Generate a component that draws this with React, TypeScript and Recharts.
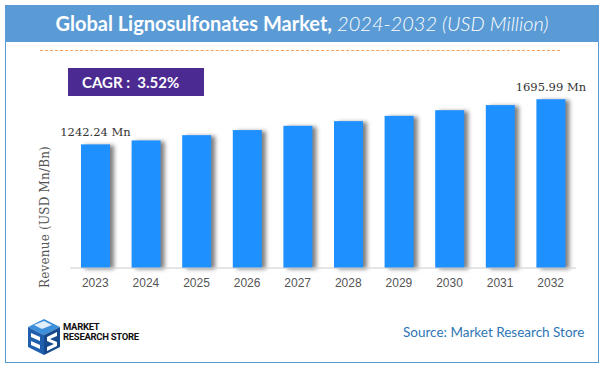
import { Bar, BarChart, LabelList, XAxis, YAxis } from "recharts";

const YEARS = ["2023", "2024", "2025", "2026", "2027", "2028", "2029", "2030", "2031", "2032"];
const REVENUE = [1242.24, 1282, 1335, 1386, 1429, 1476, 1529, 1586, 1637, 1695.99];
const CAGR = "3.52%";

const data = YEARS.map((year, i) => ({ year, value: REVENUE[i] }));

const SANS = "Lato, 'Open Sans', sans-serif";
const SERIF = "'DejaVu Serif', serif";

function ShadowBar(props: any) {
  const { x, y, width, height } = props;
  if (!height || height <= 0) return null;
  return (
    <rect
      x={x}
      y={y}
      width={width}
      height={height}
      fill="#1e90ff"
      style={{ filter: "drop-shadow(4px 1px 2px rgba(0,0,0,0.5))" }}
    />
  );
}

function EndLabel(props: any) {
  const { x, y, width, index, value } = props;
  if (index !== 0 && index !== REVENUE.length - 1) return null;
  return (
    <text
      x={x + width / 2}
      y={y - 8}
      textAnchor="middle"
      fontFamily={SERIF}
      fontSize={11.5}
      fill="#333"
    >
      {`${Number(value).toFixed(2)} Mn`}
    </text>
  );
}

function Logo() {
  return (
    <svg width={36} height={40} viewBox="0 0 36 40" style={{ position: "absolute", left: 26, top: 317 }}>
      <polygon points="18,2 34,10 18,18 2,10" fill="#3c8fd8" />
      <polygon points="2,10 18,18 18,38 2,30" fill="#1f5fae" />
      <polygon points="18,18 34,10 34,30 18,38" fill="#174a8c" />
      <path d="M8,8 L18,4 L26,8 L16,12 Z" fill="#ffffff" opacity={0.85} />
      <path d="M5,16 L14,20 L14,24 L5,20 Z" fill="#ffffff" />
      <path d="M5,24 L14,28 L14,32 L5,28 Z" fill="#ffffff" />
      <path d="M21,20 L31,15 L31,19 L24,22 L31,25 L31,29 L21,34 L21,30 L28,27 L21,24 Z" fill="#ffffff" />
    </svg>
  );
}

export default function App() {
  return (
    <div
      style={{
        position: "absolute",
        left: 0,
        top: 0,
        width: 607,
        height: 372,
        background: "#ffffff",
        overflow: "hidden",
      }}
    >
      {/* frame */}
      <div
        style={{
          position: "absolute",
          left: 5,
          top: 5,
          width: 592,
          height: 356,
          border: "1px solid #5b9bd5",
        }}
      />
      {/* header */}
      <div
        style={{
          position: "absolute",
          left: 5,
          top: 5,
          width: 594,
          height: 37,
          background: "#5b9bd5",
          color: "#fff",
          fontFamily: SANS,
          fontSize: 20,
          lineHeight: "37px",
          textAlign: "center",
          whiteSpace: "nowrap",
        }}
      >
        <span style={{ fontWeight: 700 }}>Global Lignosulfonates Market,</span>
        <span style={{ fontStyle: "italic", fontWeight: 300 }}> 2024-2032 (USD Million)</span>
      </div>
      {/* dashed rule */}
      <div
        style={{
          position: "absolute",
          left: 40,
          top: 50,
          width: 520,
          borderTop: "1px dashed #f4a15d",
        }}
      />

      <BarChart
        width={607}
        height={372}
        data={data}
        margin={{ top: 69, right: 31, bottom: 74, left: 70 }}
        style={{ position: "absolute", left: 0, top: 0 }}
      >
        <XAxis
          dataKey="year"
          height={30}
          tickLine={false}
          tickMargin={4}
          axisLine={{ stroke: "#cccccc" }}
          tick={{ fill: "#555", fontSize: 12, fontFamily: "'Liberation Sans', Arial, sans-serif" }}
        />
        <YAxis hide domain={[0, 2000]} />
        <Bar dataKey="value" barSize={29} shape={<ShadowBar />} isAnimationActive={false}>
          <LabelList dataKey="value" content={<EndLabel />} />
        </Bar>
      </BarChart>

      {/* CAGR badge */}
      <div
        style={{
          position: "absolute",
          left: 68,
          top: 68,
          width: 136,
          height: 28,
          background: "#4b2a91",
          color: "#fff",
          fontFamily: SANS,
          fontWeight: 700,
          fontSize: 15,
          lineHeight: "28px",
          paddingLeft: 14,
          boxSizing: "border-box",
          whiteSpace: "pre",
        }}
      >
        {`CAGR :  ${CAGR}`}
      </div>

      {/* y axis title */}
      <div
        style={{
          position: "absolute",
          left: 45,
          top: 217,
          transform: "translate(-50%, -50%) rotate(-90deg)",
          fontFamily: SERIF,
          fontSize: 12,
          letterSpacing: 0.2,
          color: "#555",
          whiteSpace: "nowrap",
        }}
      >
        Revenue (USD Mn/Bn)
      </div>

      <Logo />
      <div
        style={{
          position: "absolute",
          left: 63,
          top: 322,
          fontFamily: "Roboto, sans-serif",
          fontWeight: 700,
          fontSize: 9.5,
          lineHeight: "9.5px",
          color: "#111",
          letterSpacing: -0.3,
        }}
      >
        MARKET
        <br />
        RESEARCH STORE
      </div>

      <div
        style={{
          position: "absolute",
          left: 403,
          top: 324,
          fontFamily: SANS,
          fontSize: 13.5,
          color: "#2e75b6",
          whiteSpace: "nowrap",
        }}
      >
        Source: Market Research Store
      </div>
    </div>
  );
}
